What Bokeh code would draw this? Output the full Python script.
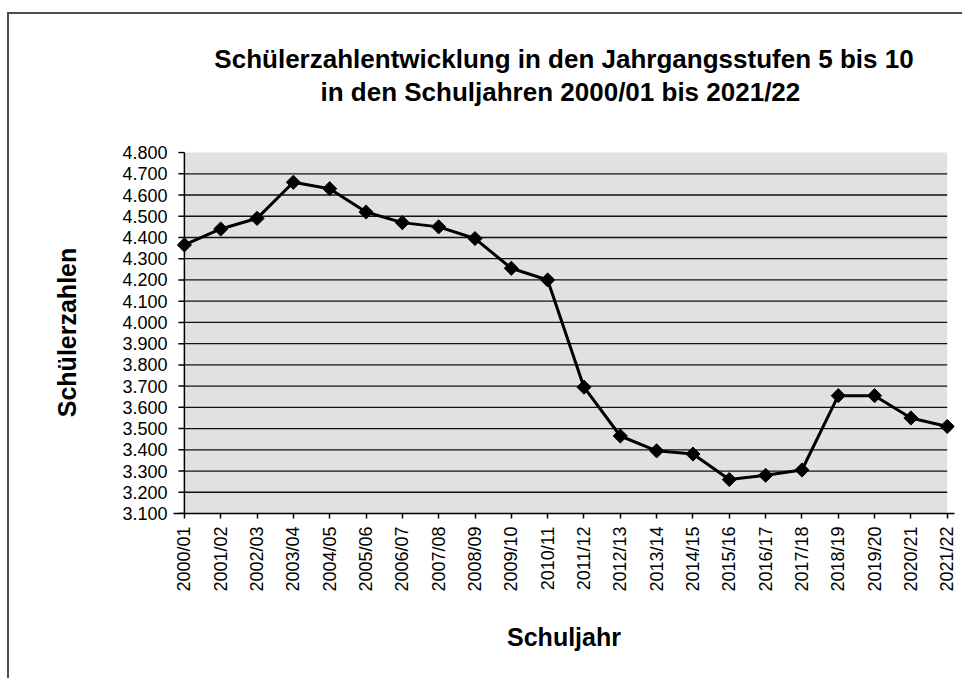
import math
from bokeh.plotting import figure
from bokeh.models import ColumnDataSource, FixedTicker, Range1d, LinearAxis
from bokeh.embed import file_html
from bokeh.resources import INLINE

# ---- data ----
school_years = ["2000/01", "2001/02", "2002/03", "2003/04", "2004/05", "2005/06",
                "2006/07", "2007/08", "2008/09", "2009/10", "2010/11", "2011/12",
                "2012/13", "2013/14", "2014/15", "2015/16", "2016/17", "2017/18",
                "2018/19", "2019/20", "2020/21", "2021/22"]
students = [4365, 4440, 4490, 4660, 4630, 4520, 4470, 4450, 4395, 4255, 4200, 3695,
            3465, 3395, 3380, 3260, 3280, 3305, 3655, 3655, 3550, 3510]
y_ticks = [3100, 3200, 3300, 3400, 3500, 3600, 3700, 3800, 3900, 4000, 4100, 4200,
           4300, 4400, 4500, 4600, 4700, 4800]
y_tick_labels = ["3.100", "3.200", "3.300", "3.400", "3.500", "3.600", "3.700", "3.800",
                 "3.900", "4.000", "4.100", "4.200", "4.300", "4.400", "4.500", "4.600",
                 "4.700", "4.800"]
grid_values = [3200, 3300, 3400, 3500, 3600, 3700, 3800, 3900, 4000, 4100, 4200,
               4300, 4400, 4500, 4600, 4700]
title_line1 = "Schülerzahlentwicklung in den Jahrgangsstufen 5 bis 10"
title_line2 = "in  den Schuljahren 2000/01 bis 2021/22"
x_title = "Schuljahr"
y_title = "Schülerzahlen"

FONT = "Liberation Sans"
xs = list(range(len(school_years)))
n_last = len(school_years) - 1
TICK_LEN = 0.165  # in x units (about 6 px)

p = figure(width=962, height=678, output_backend="svg", toolbar_location=None,
           x_range=Range1d(-0.3, n_last + 0.2), y_range=Range1d(y_ticks[0], y_ticks[-1] + 5),
           min_border_left=173, min_border_right=8, min_border_top=151, min_border_bottom=165,
           background_fill_color="white", border_fill_color="white")
p.outline_line_color = None
p.grid.visible = False

xa = p.below[0]
ya = p.left[0]

# title line 1 (outermost)
p.title.text = title_line1
p.title.align = "center"
p.title.text_font = FONT
p.title.text_font_size = "26px"
p.title.text_font_style = "bold"
p.title.text_color = "black"
p.title.standoff = 0

# title line 2, carried by an unticked axis above the plot area
top_axis = LinearAxis(ticker=FixedTicker(ticks=[]), axis_line_color=None,
                      major_tick_line_color=None, minor_tick_line_color=None,
                      major_tick_in=0, major_tick_out=0, major_label_standoff=0,
                      major_label_text_font_size="0px",
                      axis_label=title_line2, axis_label_text_font=FONT,
                      axis_label_text_font_size="26px", axis_label_text_font_style="bold",
                      axis_label_text_color="black", axis_label_standoff=45)
p.add_layout(top_axis, "above")

# plot area background
p.quad(left=[xs[0]], right=[xs[-1]], bottom=[y_ticks[0]], top=[y_ticks[-1]],
       fill_color="#e1e1e1", line_color=None)
# gridlines
p.segment(x0=[xs[0]] * len(grid_values), x1=[xs[-1]] * len(grid_values),
          y0=grid_values, y1=grid_values, line_color="#111111", line_width=1.3)
# y axis line and outward ticks at x = first category
p.segment(x0=[xs[0]], x1=[xs[0]], y0=[y_ticks[0]], y1=[y_ticks[-1]],
          line_color="black", line_width=1.5)
p.segment(x0=[xs[0] - TICK_LEN] * len(y_ticks), x1=[xs[0]] * len(y_ticks),
          y0=y_ticks, y1=y_ticks, line_color="black", line_width=1.5)

src = ColumnDataSource(dict(x=xs, y=students))
p.line("x", "y", source=src, line_color="black", line_width=3)
p.scatter("x", "y", source=src, marker="square", angle=math.pi / 4, size=10,
          fill_color="black", line_color="black")

# y axis (labels only; line/ticks drawn at first category above)
ya.ticker = FixedTicker(ticks=y_ticks)
ya.major_label_overrides = {t: l for t, l in zip(y_ticks, y_tick_labels)}
ya.minor_tick_line_color = None
ya.major_tick_line_color = None
ya.major_tick_out = 0
ya.major_tick_in = 0
ya.major_label_standoff = 6
ya.axis_line_color = None
ya.major_label_text_font = FONT
ya.major_label_text_font_size = "18px"
ya.major_label_text_color = "black"
ya.axis_label = y_title
ya.axis_label_text_font = FONT
ya.axis_label_text_font_size = "25px"
ya.axis_label_text_font_style = "bold"
ya.axis_label_text_color = "black"
ya.axis_label_standoff = 38

# x axis
xa.ticker = FixedTicker(ticks=xs)
xa.major_label_overrides = {i: s for i, s in zip(xs, school_years)}
xa.major_label_orientation = math.pi / 2
xa.minor_tick_line_color = None
xa.major_tick_out = 5
xa.major_tick_in = 0
xa.major_label_standoff = 8
xa.axis_line_color = "black"
xa.axis_line_width = 1.5
xa.major_tick_line_color = "black"
xa.major_tick_line_width = 1.5
xa.major_label_text_font = FONT
xa.major_label_text_font_size = "18px"
xa.major_label_text_color = "black"
xa.axis_label = x_title
xa.axis_label_text_font = FONT
xa.axis_label_text_font_size = "25px"
xa.axis_label_text_font_style = "bold"
xa.axis_label_text_color = "black"
xa.axis_label_standoff = 28

# outer chart-area border (top and left edges visible)
p.stylesheets = [":host::after { content: ''; position: absolute; left: 7px; top: 12px; "
                 "right: 0; bottom: 0; border-left: 2px solid #4d4d4d; "
                 "border-top: 2px solid #4d4d4d; pointer-events: none; z-index: 10; }"]

open("out.html", "w").write(file_html(p, INLINE))
